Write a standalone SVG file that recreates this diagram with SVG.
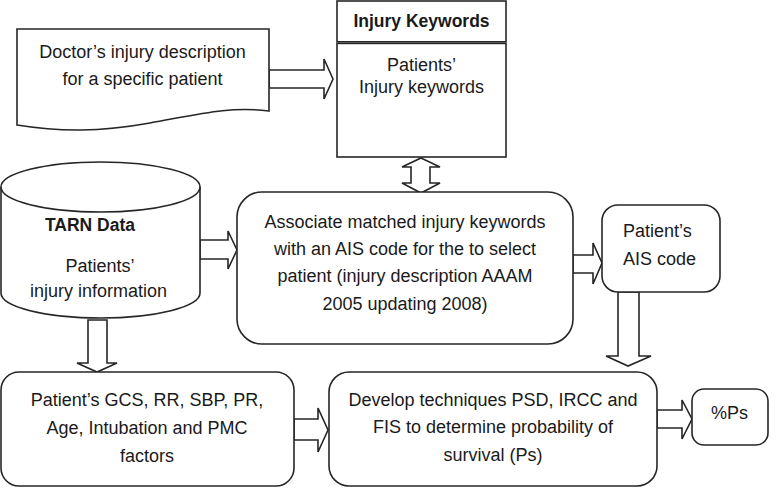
<svg xmlns="http://www.w3.org/2000/svg" width="783" height="488" viewBox="0 0 783 488">
<style>
.s{fill:#fff;stroke:#262626;stroke-width:1.6;stroke-linejoin:miter}
.t{font-family:"Liberation Sans",Arial,sans-serif;font-size:18px;fill:#1a1a1a;text-anchor:middle}
.b{font-weight:bold;font-size:17.5px}
.l{text-anchor:start}
</style>
<rect width="783" height="488" fill="#fff"/>
<g id="connectors">
<polygon class="s" points="269,70 324,70 324,59 333,79 324,99 324,88 269,88"/>
<polygon class="s" points="421,158 440,167 430,167 430,183 440,183 421,193 402,183 411,183 411,167 402,167"/>
<polygon class="s" points="200,240 228,240 228,231 237,250 228,269 228,259 200,259"/>
<polygon class="s" points="573,255 593,255 593,243 602,263 593,284 593,273 573,273"/>
<polygon class="s" points="88,320 107,320 107,363 117,363 97,372 77,363 88,363"/>
<polygon class="s" points="618,292 639,292 639,356 651,356 628,366 606,356 618,356"/>
<polygon class="s" points="294,419 318,419 318,408 328,430 318,452 318,440 294,440"/>
<polygon class="s" points="657,410 682,410 682,400 692,419 682,439 682,428 657,428"/>
</g>
<g id="doctor">
<path class="s" d="M17,29 H269 V111 C230,106 200,114 150,123 C100,132 60,132 17,125 Z"/>
<text class="t" x="142.5" y="58">Doctor’s injury description</text>
<text class="t" x="142.5" y="85">for a specific patient</text>
</g>
<g id="keywords">
<rect class="s" x="337" y="1" width="169" height="40.8"/>
<rect class="s" x="337" y="43.4" width="169" height="113.6"/>
<text class="t b" x="421.5" y="27">Injury Keywords</text>
<text class="t" x="421.5" y="71">Patients’</text>
<text class="t" x="421.5" y="93">Injury keywords</text>
</g>
<g id="tarn">
<path class="s" d="M1,187 V293 A99.5,25 0 0 0 200,293 V187"/>
<ellipse class="s" cx="100.5" cy="187" rx="99.5" ry="25"/>
<text class="t b" x="90" y="231">TARN Data</text>
<text class="t" x="100" y="272">Patients’</text>
<text class="t" x="98.5" y="297">injury information</text>
</g>
<g id="associate">
<rect class="s" x="237" y="192" width="336" height="152" rx="25"/>
<text class="t" x="405" y="228">Associate matched injury keywords</text>
<text class="t" x="405" y="255">with an AIS code for the to select</text>
<text class="t" x="405" y="282">patient (injury description AAAM</text>
<text class="t" x="405" y="310">2005 updating 2008)</text>
</g>
<g id="ais">
<rect class="s" x="602" y="205" width="118" height="87" rx="16"/>
<text class="t l" x="623" y="237">Patient’s</text>
<text class="t l" x="623" y="265">AIS code</text>
</g>
<g id="factors">
<rect class="s" x="1" y="372" width="293" height="114" rx="18"/>
<text class="t" x="147" y="406">Patient’s GCS, RR, SBP, PR,</text>
<text class="t" x="147" y="434">Age, Intubation and PMC</text>
<text class="t" x="147" y="462">factors</text>
</g>
<g id="develop">
<rect class="s" x="329" y="372" width="328" height="114" rx="20"/>
<text class="t" x="493" y="406">Develop techniques PSD, IRCC and</text>
<text class="t" x="493" y="433">FIS to determine probability of</text>
<text class="t" x="493" y="461">survival (Ps)</text>
</g>
<g id="ps">
<rect class="s" x="692" y="389" width="76" height="56" rx="12"/>
<text class="t l" x="711" y="419">%Ps</text>
</g>
</svg>
